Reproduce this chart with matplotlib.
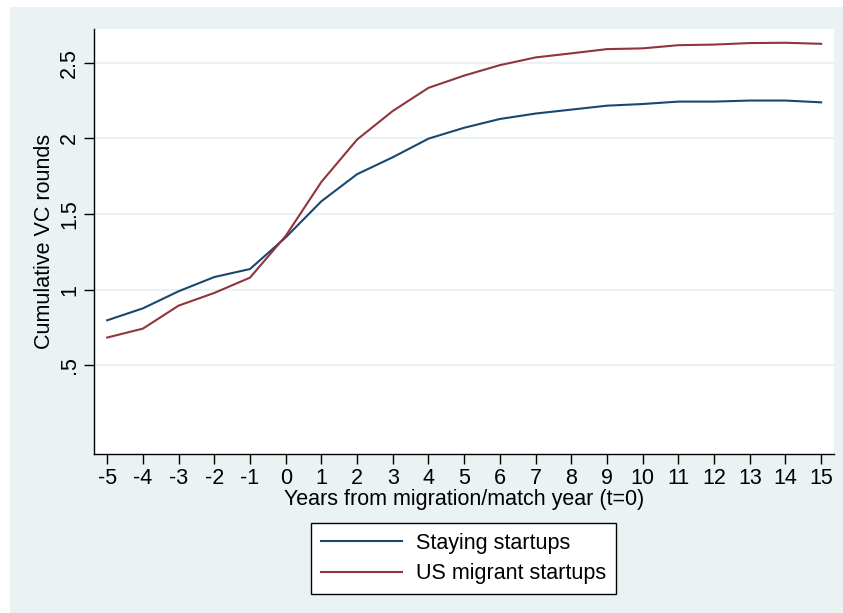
import matplotlib
matplotlib.use("Agg")
import matplotlib.pyplot as plt
from matplotlib.patches import Rectangle

plt.rcParams["font.family"] = ["Liberation Sans", "DejaVu Sans"]
plt.rcParams["axes.unicode_minus"] = False

years = list(range(-5, 16))
staying = [0.797, 0.876, 0.989, 1.083, 1.136, 1.345, 1.584, 1.763, 1.875, 1.998,
           2.07, 2.128, 2.164, 2.19, 2.216, 2.227, 2.243, 2.243, 2.25, 2.25, 2.238]
migrant = [0.683, 0.742, 0.894, 0.978, 1.079, 1.355, 1.712, 1.992, 2.181, 2.334,
           2.415, 2.484, 2.535, 2.562, 2.59, 2.595, 2.616, 2.62, 2.63, 2.632, 2.625]
ytick_vals = [0.5, 1, 1.5, 2, 2.5]
ytick_labels = [".5", "1", "1.5", "2", "2.5"]

bg = "#eaf2f3"
fs = 15.5
W, H = 843, 613
fig = plt.figure(figsize=(W / 100, H / 100), dpi=100)
fig.patch.set_facecolor("white")
fig.add_artist(Rectangle((10 / W, 0), 1 - 10 / W, 1 - 7 / H, transform=fig.transFigure,
                         facecolor=bg, edgecolor="none", zorder=0))

ax = fig.add_axes([94 / W, 1 - 454 / H, 740 / W, 425 / H])
ax.set_facecolor("white")
ax.plot(years, staying, color="#1a476f", lw=1.5, label="Staying startups", zorder=3)
ax.plot(years, migrant, color="#90353b", lw=1.5, label="US migrant startups", zorder=3)

ax.set_xlim(-5.37, 15.36)
ax.set_ylim(-0.087, 2.723)
ax.set_xticks(years)
ax.set_yticks(ytick_vals)
ax.set_yticklabels(ytick_labels, rotation=90, va="center")
ax.grid(axis="y", color=bg, lw=1.6, zorder=1)
ax.set_axisbelow(True)

for side in ["top", "right"]:
    ax.spines[side].set_visible(False)
for side in ["left", "bottom"]:
    ax.spines[side].set_linewidth(1.0)
ax.tick_params(axis="both", direction="out", length=7, width=1.0, labelsize=fs, pad=3)

ax.set_xlabel("Years from migration/match year (t=0)", fontsize=fs, labelpad=0)
ax.set_ylabel("Cumulative VC rounds", fontsize=fs, labelpad=3)

leg = fig.legend(loc="center", bbox_to_anchor=(463.5 / W, 1 - 558.5 / H),
                 fontsize=fs, frameon=True, fancybox=False, edgecolor="black",
                 facecolor="white", framealpha=1,
                 handlelength=3.75, handletextpad=0.65, labelspacing=0.45,
                 borderpad=0.45, borderaxespad=0)
leg.get_frame().set_linewidth(1.0)

fig.savefig("out.png", dpi=100)
